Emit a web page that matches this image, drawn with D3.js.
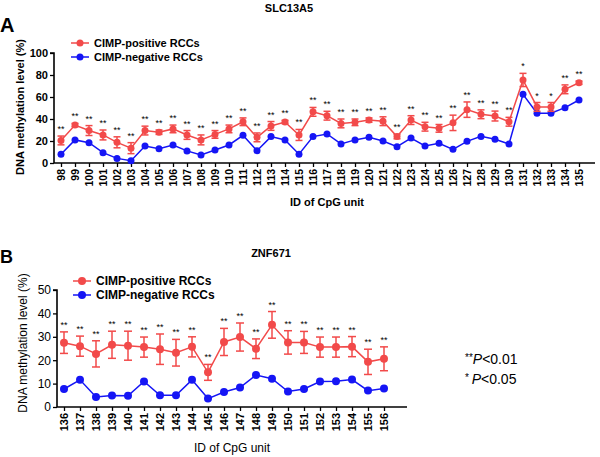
<!DOCTYPE html>
<html><head><meta charset="utf-8">
<script src="https://cdn.jsdelivr.net/npm/d3@7"></script>
<style>body{margin:0;background:#fff}svg{display:block;font-family:"Liberation Sans",Arial,sans-serif}</style>
</head><body><svg id="c" width="600" height="457"></svg>
<script>
// ---- Panel A: SLC13A5 ----
const catsA = d3.range(98, 136).map(String);
const posA = [20.5,34.5,29.5,25.5,18.8,13.5,29.5,28,31,25.5,21,26,31,37.5,23.3,33.7,37.3,25.5,46.5,43,36,37,39,38,24,39,33,31.5,36.5,48.5,44.3,42.7,37.5,75.5,51,51,67,73];
const errA = [4,1.5,4.5,4.5,5,5,4,2,3.5,4,4.5,3.5,3.5,3.5,4,4,1.5,5,4,4,4,3,2,4,2,4,4,3.5,7,7,4,4.5,4,6,4,4,4,1.5];
const negA = [8,21,18.5,9.4,4.2,2,15.5,13,16.4,11,7.3,11.8,16.4,25.2,11.2,24,21,8,24,26.4,17.3,21,23.3,20,14.8,22.7,15.5,17.9,12.4,19.7,24.2,21.5,17.3,62.4,45.2,45.2,50.3,57.3];
const sigA = ["**","**","**","**","**","**","**","**","**","**","**","**","**","**","**","**","**","**","**","**","**","**","**","**","**","**","**","**","**","**","**","**","**","*","*","*","**","**"];
const yTicksA = [0,20,40,60,80,100];

// ---- Panel B: ZNF671 ----
const catsB = d3.range(136, 157).map(String);
const posB = [27.5,26,22.7,26.6,26.2,25.6,24.7,23.2,25.7,14.8,27.8,29.9,24.9,35.1,27.6,27.6,25.6,25.6,25.8,19.3,20.6];
const errB = [4.6,4.3,5.6,5.8,6.2,4.3,6.5,5.7,4.3,3.4,5.8,6,4.2,5.7,5,4.7,4.3,4.3,4.3,5.4,5.1];
const negB = [7.7,11.6,4.3,4.9,4.8,10.9,5,5,11.6,3.6,6.4,8.3,13.7,12.1,6.6,7.7,10.9,11,11.7,7,7.9];
const sigB = catsB.map(() => "**");
const yTicksB = [0,10,20,30,40,50];

const legendLabels = ["CIMP-positive RCCs", "CIMP-negative RCCs"];
const RED = "#f24a4a", BLUE = "#1515f5";

const svg = d3.select("#c");

function panel(o) {
  const g = svg.append("g");
  const x = d3.scalePoint().domain(o.cats).range([o.x0, o.x1]);
  const y = d3.scaleLinear().domain([0, o.ymax]).range([o.yb, o.yt]);
  const fw = o.bold ? "bold" : "normal";
  // y axis
  const ya = g.append("g").attr("transform", `translate(${o.ax},0)`)
    .call(d3.axisLeft(y).tickValues(o.yticks).tickSize(4).tickPadding(2));
  ya.select(".domain").attr("stroke", "#000").attr("stroke-width", 1.6).attr("d", `M-4,${o.yt}H0V${o.yb}`);
  ya.selectAll(".tick line").attr("stroke-width", 1.3);
  ya.selectAll("text").attr("font-size", o.yfs).attr("font-weight", fw).attr("fill", "#000").attr("font-family", "Liberation Sans, Arial, sans-serif");
  // x axis
  const xa = g.append("g").attr("transform", `translate(0,${o.yb})`)
    .call(d3.axisBottom(x).tickSize(4).tickPadding(2));
  xa.select(".domain").attr("stroke-width", 1.6).attr("d", `M${o.ax},0H${o.xend}`);
  xa.selectAll(".tick line").attr("stroke-width", 1.3);
  xa.selectAll("text").attr("font-size", o.xfs).attr("font-weight", o.xfw).attr("fill", "#000")
    .attr("font-family", "Liberation Sans, Arial, sans-serif")
    .attr("transform", "rotate(-90)").attr("text-anchor", "end").attr("dy", "0.35em").attr("x", -6).attr("y", 0);
  // lines
  const line = d3.line().x((d, i) => x(o.cats[i])).y(d => y(d));
  g.append("path").datum(o.neg).attr("d", line).attr("fill", "none").attr("stroke", BLUE).attr("stroke-width", 1.5);
  g.append("path").datum(o.pos).attr("d", line).attr("fill", "none").attr("stroke", RED).attr("stroke-width", 1.5);
  // blue points
  g.selectAll(".nb").data(o.neg).join("circle").attr("cx", (d, i) => x(o.cats[i])).attr("cy", d => y(d)).attr("r", o.r).attr("fill", BLUE);
  // red error bars
  const eb = g.selectAll(".eb").data(o.pos).join("g");
  eb.append("line").attr("x1", (d, i) => x(o.cats[i])).attr("x2", (d, i) => x(o.cats[i]))
    .attr("y1", (d, i) => y(d + o.err[i])).attr("y2", (d, i) => y(d - o.err[i])).attr("stroke", RED).attr("stroke-width", 1.5);
  [1, -1].forEach(s => {
    eb.append("line").attr("x1", (d, i) => x(o.cats[i]) - o.cap).attr("x2", (d, i) => x(o.cats[i]) + o.cap)
      .attr("y1", (d, i) => y(d + s * o.err[i])).attr("y2", (d, i) => y(d + s * o.err[i])).attr("stroke", RED).attr("stroke-width", 1.5);
  });
  g.selectAll(".pr").data(o.pos).join("circle").attr("cx", (d, i) => x(o.cats[i])).attr("cy", d => y(d)).attr("r", o.r).attr("fill", RED);
  // significance stars
  g.selectAll(".sig").data(o.pos).join("text").attr("x", (d, i) => x(o.cats[i])).attr("y", (d, i) => y(d + o.err[i]) - 4)
    .attr("text-anchor", "middle").attr("font-size", 9).attr("fill", "#000").text((d, i) => o.sig[i]);
  // legend
  legendLabels.forEach((t, i) => {
    const ly = o.ly + i * o.lgap, c = i ? BLUE : RED;
    g.append("line").attr("x1", o.lx - 9).attr("x2", o.lx + 9).attr("y1", ly).attr("y2", ly).attr("stroke", c).attr("stroke-width", 1.5);
    g.append("circle").attr("cx", o.lx).attr("cy", ly).attr("r", o.r).attr("fill", c);
    g.append("text").attr("x", o.lx + 14).attr("y", ly).attr("dy", "0.35em").attr("font-size", o.lfs).attr("font-weight", "bold").text(t);
  });
  // titles
  g.append("text").attr("x", o.tx).attr("y", o.ty).attr("text-anchor", "middle").attr("font-size", 11).attr("font-weight", "bold").text(o.title);
  g.append("text").attr("x", 0).attr("y", o.py).attr("font-size", o.pfs).attr("font-weight", "bold").text(o.panel);
  g.append("text").attr("transform", `translate(${o.ytx},${o.yty}) rotate(-90)`).attr("text-anchor", "middle")
    .attr("font-size", o.ytfs).attr("font-weight", fw).text("DNA methylation level (%)");
  g.append("text").attr("x", o.xtx).attr("y", o.xty).attr("text-anchor", "middle").attr("font-size", o.xtfs).attr("font-weight", fw).text("ID of CpG unit");
}

panel({cats: catsA, pos: posA, err: errA, neg: negA, sig: sigA, yticks: yTicksA, ymax: 100,
  ax: 54, x0: 61, x1: 579, xend: 595, yb: 163, yt: 53, r: 3.5, cap: 3.5, bold: true, xfw: "bold",
  yfs: 11, xfs: 10.5, lx: 80, ly: 43, lgap: 14, lfs: 11, title: "SLC13A5", tx: 289, ty: 12,
  panel: "A", py: 32, pfs: 20, ytx: 24, yty: 107, ytfs: 11, xtx: 327, xty: 206, xtfs: 11});

panel({cats: catsB, pos: posB, err: errB, neg: negB, sig: sigB, yticks: yTicksB, ymax: 50,
  ax: 57, x0: 64, x1: 384, xend: 407, yb: 407, yt: 290, r: 4, cap: 4, bold: false, xfw: "bold",
  yfs: 12, xfs: 11, lx: 82, ly: 281, lgap: 14, lfs: 12, title: "ZNF671", tx: 271, ty: 257,
  panel: "B", py: 263, pfs: 18, ytx: 27, yty: 343, ytfs: 12, xtx: 232, xty: 452, xtfs: 12});

// p-value note
const note = svg.append("g").attr("font-size", 14);
const n1 = note.append("text").attr("x", 465).attr("y", 364);
n1.append("tspan").attr("font-size", 10).attr("dy", -3).text("**");
n1.append("tspan").attr("font-style", "italic").attr("dy", 3).text("P");
n1.append("tspan").text("<0.01");
const n2 = note.append("text").attr("x", 465).attr("y", 384);
n2.append("tspan").attr("font-size", 10).attr("dy", -3).text("* ");
n2.append("tspan").attr("font-style", "italic").attr("dy", 3).text("P");
n2.append("tspan").text("<0.05");
</script></body></html>
